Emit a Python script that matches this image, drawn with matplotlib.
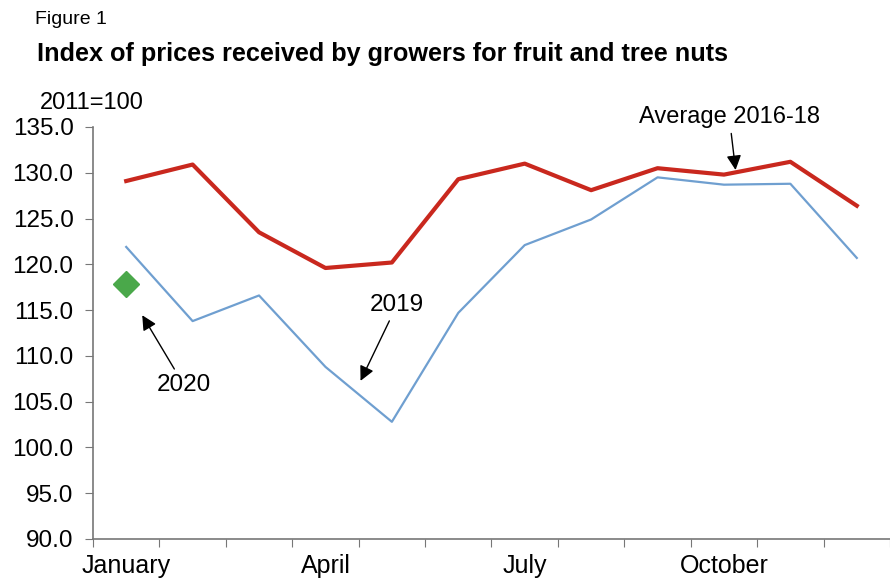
import matplotlib
matplotlib.use("Agg")
import matplotlib.pyplot as plt

plt.rcParams['font.family'] = ['Liberation Sans', 'DejaVu Sans']

months = ['January', 'February', 'March', 'April', 'May', 'June', 'July',
          'August', 'September', 'October', 'November', 'December']
avg_2016_18 = [129.1, 130.9, 123.5, 119.6, 120.2, 129.3, 131.0, 128.1, 130.5, 129.8, 131.2, 126.4]
y2019 = [121.9, 113.8, 116.6, 108.8, 102.8, 114.7, 122.1, 124.9, 129.5, 128.7, 128.8, 120.7]
y2020 = [117.8]
yticks = [90, 95, 100, 105, 110, 115, 120, 125, 130, 135]

fig = plt.figure(figsize=(8.9, 5.83), dpi=100)
ax = fig.add_axes([93/890, 1 - 539/583, 1 - 93/890, (539 - 127)/583])

x = list(range(len(months)))
ax.plot(x, avg_2016_18, color='#c9281e', lw=3)
ax.plot(x, y2019, color='#6f9fd0', lw=1.6)
ax.plot(x[:len(y2020)], y2020, marker='D', ms=13.5, color='#4aa84a', ls='none')

ax.set_ylim(90, 135)
ax.set_xlim(-0.5, 11.4)
ax.set_yticks(yticks)
ax.set_yticklabels(['%.1f' % v for v in yticks], fontsize=17.5)

# ticks at category boundaries, labels every third month
ax.set_xticks([i + 0.5 for i in range(-1, 12)])
ax.set_xticklabels([])
ax.set_xticks([0, 3, 6, 9], minor=True)
ax.set_xticklabels([months[i] for i in [0, 3, 6, 9]], minor=True, fontsize=18)
ax.tick_params(axis='x', which='minor', length=0, pad=11)
ax.tick_params(axis='both', which='major', length=6, color='#777777', direction='out')
ax.tick_params(axis='y', pad=8)

for s in ['top', 'right']:
    ax.spines[s].set_visible(False)
for s in ['left', 'bottom']:
    ax.spines[s].set_color('#777777')
    ax.spines[s].set_linewidth(1.2)

arrow = dict(arrowstyle='-|>', color='black', lw=1, mutation_scale=22)
ax.annotate('Average 2016-18', xy=(9.18, 130.0), xytext=(9.08, 134.9),
            fontsize=17, ha='center', va='bottom', arrowprops=arrow,
            annotation_clip=False)
ax.annotate('2019', xy=(3.51, 107.0), xytext=(4.08, 114.4),
            fontsize=17.5, ha='center', va='bottom', arrowprops=arrow)
ax.annotate('2020', xy=(0.22, 114.7), xytext=(0.87, 105.6),
            fontsize=17.5, ha='center', va='bottom', arrowprops=arrow)

fig.text(35/890, 1 - 20/583, 'Figure 1', fontsize=14, va='center')
fig.text(37/890, 1 - 54/583, 'Index of prices received by growers for fruit and tree nuts',
         fontsize=18.2, fontweight='bold', va='center')
fig.text(40/890, 1 - 103/583, '2011=100', fontsize=17, va='center')

fig.savefig('out.png', dpi=100)
